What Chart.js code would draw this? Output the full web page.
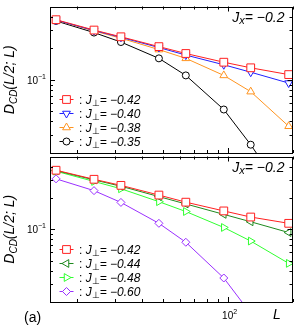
<!DOCTYPE html>
<html>
<head>
<meta charset="utf-8">
<script src="https://cdn.jsdelivr.net/npm/chart.js@4.4.0/dist/chart.umd.min.js"></script>
<style>
html, body { margin: 0; padding: 0; background: #fff; }
#wrap { position: relative; width: 299px; height: 330px; overflow: hidden; }
canvas { position: absolute; left: 0; }
#top { top: 0; }
#bot { top: 150px; }
</style>
</head>
<body>
<div id="wrap">
  <canvas id="top" width="299" height="160"></canvas>
  <canvas id="bot" width="299" height="180"></canvas>
</div>
<script>
// system sizes L
const sizes = [16, 24, 32, 48, 64, 96, 128, 192];

// upper panel, Jx = -0.2
const topJperp = ['-0.42', '-0.40', '-0.38', '-0.35'];
const top042 = [0.374, 0.298, 0.257, 0.207, 0.178, 0.147, 0.130, 0.112];
const top040 = [0.371, 0.295, 0.254, 0.203, 0.172, 0.139, 0.118, 0.093];
const top038 = [0.370, 0.292, 0.249, 0.194, 0.160, 0.110, 0.077, 0.036];
const top035 = [0.364, 0.282, 0.229, 0.160, 0.110, 0.052, 0.024, 0.007];

// lower panel, Jx = -0.2
const botJperp = ['-0.42', '-0.44', '-0.48', '-0.60'];
const bot042 = [0.369, 0.302, 0.264, 0.213, 0.182, 0.150, 0.131, 0.114];
const bot044 = [0.366, 0.298, 0.259, 0.206, 0.175, 0.139, 0.118, 0.093];
const bot048 = [0.361, 0.288, 0.245, 0.184, 0.148, 0.104, 0.077, 0.047];
const bot060 = [0.305, 0.235, 0.181, 0.114, 0.075, 0.034, 0.0155, 0.005];

// axis ticks
const xTicks = [20, 30, 40, 50, 60, 70, 80, 90, 100, 200];
const xMajor = [100];
const yTicks = [0.03, 0.04, 0.05, 0.06, 0.07, 0.08, 0.09, 0.1, 0.2, 0.3, 0.4];
const yMajor = [0.1];

const FONT = '"Liberation Sans", Arial, Helvetica, sans-serif';

function series(name, vals, color, style, rot, r){
  return {
    label: name,
    data: sizes.map((L, i) => ({x: L, y: vals[i]})),
    borderColor: color,
    borderWidth: 1,
    pointStyle: style,
    rotation: rot,
    pointRadius: r,
    pointBorderColor: color,
    pointBackgroundColor: '#fff',
    pointBorderWidth: 1,
    tension: 0,
    clip: 0
  };
}

function font(p){
  return (p.it ? 'italic ' : '') + p.s + 'px ' + FONT;
}

// draw a run of text pieces (sub/superscripts) in one line
function rich(ctx, parts, x, y, align){
  let w = 0;
  parts.forEach(p => { ctx.font = font(p); p.w = ctx.measureText(p.t).width; w += p.w; });
  let cx = align === 'right' ? x - w : align === 'center' ? x - w / 2 : x;
  parts.forEach(p => {
    ctx.font = font(p);
    ctx.fillText(p.t, cx, y + (p.dy || 0));
    cx += p.w;
  });
}

const decor = {
  id: 'decor',
  afterDraw(chart, args, opts){
    const ctx = chart.ctx;
    const a = chart.chartArea;
    const xs = chart.scales.x, ys = chart.scales.y;
    ctx.save();
    ctx.strokeStyle = '#000';
    ctx.fillStyle = '#000';
    ctx.lineWidth = 1;
    ctx.textBaseline = 'alphabetic';

    // frame
    ctx.strokeRect(Math.round(a.left) + 0.5, Math.round(a.top) + 0.5,
      Math.round(a.right - a.left) - 1, Math.round(a.bottom - a.top) - 1);

    // inward ticks
    ctx.beginPath();
    xTicks.forEach(v => {
      const px = Math.round(xs.getPixelForValue(v)) + 0.5;
      const len = xMajor.includes(v) ? 5 : 3;
      ctx.moveTo(px, a.bottom); ctx.lineTo(px, a.bottom - len);
      ctx.moveTo(px, a.top); ctx.lineTo(px, a.top + len);
    });
    yTicks.forEach(v => {
      const py = Math.round(ys.getPixelForValue(v)) + 0.5;
      const len = yMajor.includes(v) ? 5 : 3;
      ctx.moveTo(a.left, py); ctx.lineTo(a.left + len, py);
      ctx.moveTo(a.right, py); ctx.lineTo(a.right - len, py);
    });
    ctx.stroke();

    // y tick label 10^-1
    const y1 = ys.getPixelForValue(0.1);
    rich(ctx, [{t: '10', s: 10}, {t: '\u22121', s: 7, dy: -5}], a.left - 4, y1 + 4, 'right');

    // y axis title
    ctx.save();
    ctx.translate(14, (a.top + a.bottom) / 2);
    ctx.rotate(-Math.PI / 2);
    rich(ctx, [{t: 'D', s: 14, it: true}, {t: 'CD', s: 10, it: true, dy: 3},
      {t: '(L/2; L)', s: 14, it: true}], 0, 0, 'center');
    ctx.restore();

    // Jx label
    rich(ctx, [{t: 'J', s: 14, it: true}, {t: 'x', s: 11, it: true, dy: 2},
      {t: '= \u22120.2', s: 14, it: true}], a.right - 8, a.top + 15, 'right');

    // legend
    opts.items.forEach((name, i) => {
      const ds = chart.data.datasets[i];
      const ly = Math.round(opts.legendY + i * 14) + 0.5;
      ctx.strokeStyle = ds.borderColor;
      ctx.beginPath();
      ctx.moveTo(59.5, ly); ctx.lineTo(73.5, ly);
      ctx.stroke();
      ctx.fillStyle = '#fff';
      Chart.helpers.drawPoint(ctx, {pointStyle: ds.pointStyle, rotation: ds.rotation,
        radius: ds.pointRadius, borderWidth: 1}, 66.5, ly);
      ctx.fillStyle = '#000';
      rich(ctx, [{t: ':', s: 12}, {t: ' J', s: 12, it: true}, {t: '\u22a5', s: 9, dy: 2},
        {t: '= \u2212' + name.slice(1), s: 12, it: true}], 79, ly + 4, 'left');
    });

    // x labels on the lower panel
    if (opts.xLabels) {
      ctx.fillStyle = '#000';
      const x2 = xs.getPixelForValue(100);
      rich(ctx, [{t: '10', s: 10}, {t: '2', s: 7, dy: -5}], x2 + 2, a.bottom + 17, 'center');
      rich(ctx, [{t: 'L', s: 14, it: true}], 277, a.bottom + 17, 'center');
      rich(ctx, [{t: '(a)', s: 14}], 24, a.bottom + 20, 'left');
    }
    ctx.restore();
  }
};

function makeChart(id, datasets, items, legendY, xLabels, pad){
  return new Chart(document.getElementById(id), {
    type: 'line',
    data: {datasets: datasets},
    options: {
      responsive: false,
      animation: false,
      layout: {padding: pad},
      scales: {
        x: {type: 'logarithmic', min: 15, max: 200, display: false},
        y: {type: 'logarithmic', min: 0.02, max: 0.5, display: false}
      },
      plugins: {
        legend: {display: false},
        tooltip: {enabled: false},
        decor: {items: items, legendY: legendY, xLabels: xLabels}
      }
    },
    plugins: [decor]
  });
}

makeChart('top', [
  series('-0.42', top042, '#ff2020', 'rect', 0, 5.5),
  series('-0.40', top040, '#2020ff', 'triangle', 180, 4.5),
  series('-0.38', top038, '#ff9420', 'triangle', 0, 4.5),
  series('-0.35', top035, '#000000', 'circle', 0, 3.5)
], topJperp, 99, false, {left: 50, top: 3, right: 3, bottom: 7});

makeChart('bot', [
  series('-0.42', bot042, '#ff2020', 'rect', 0, 5.5),
  series('-0.44', bot044, '#1e8a1e', 'triangle', 270, 4.5),
  series('-0.48', bot048, '#30ff30', 'triangle', 90, 4.5),
  series('-0.60', bot060, '#9a30ff', 'rectRot', 0, 4)
], botJperp, 99, true, {left: 50, top: 3, right: 3, bottom: 28});
</script>
</body>
</html>
